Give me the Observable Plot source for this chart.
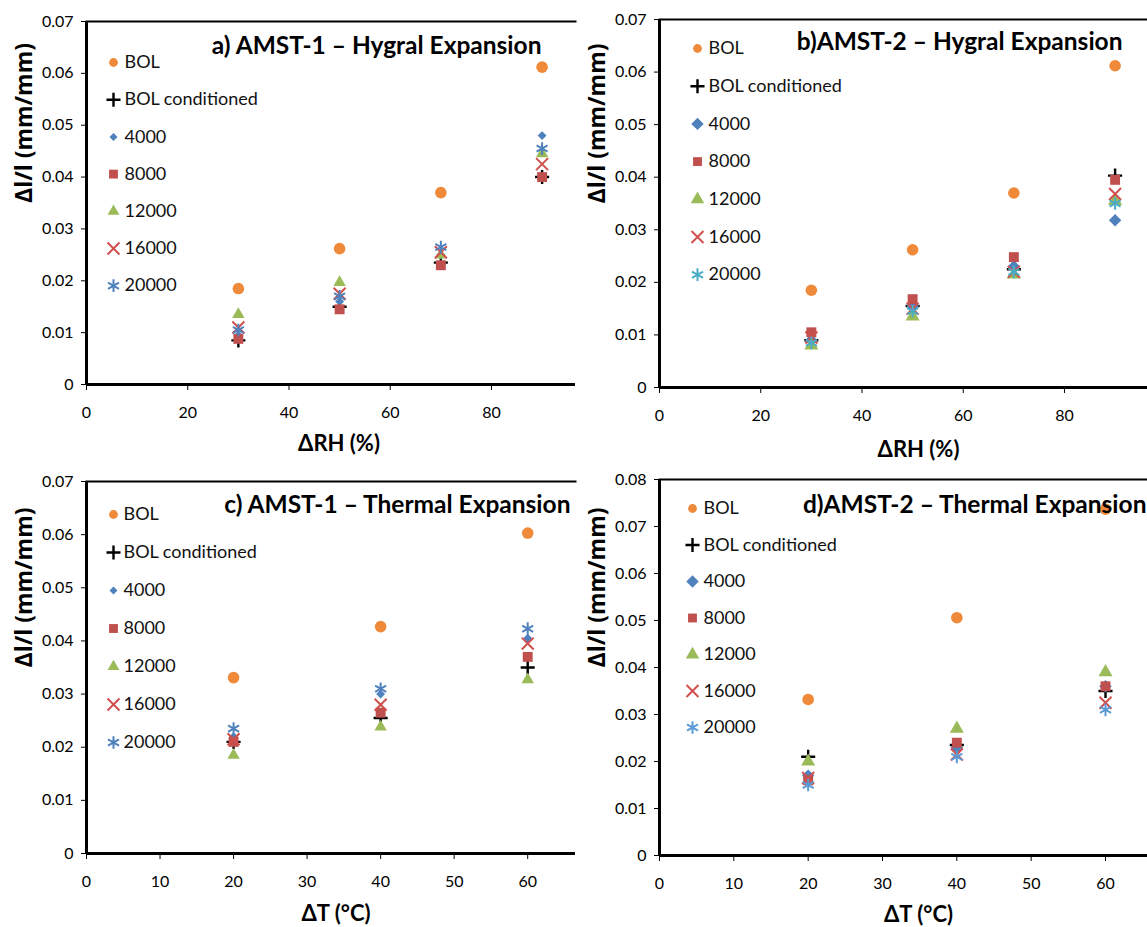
<!DOCTYPE html>
<html><head><meta charset="utf-8">
<script src="https://cdn.jsdelivr.net/npm/d3@7"></script>
<script src="https://cdn.jsdelivr.net/npm/@observablehq/plot@0.6"></script>
<style>
body{margin:0;background:#fff;}
#wrap{position:relative;width:1147px;height:927px;overflow:hidden;background:#fff;}
.panel{position:absolute;}
</style></head><body><div id="wrap"></div>
<script>
// ---- data ----
const seriesNames = ["BOL", "BOL conditioned", "4000", "8000", "12000", "16000", "20000"];
const rhLevels = [30, 50, 70, 90];
const tLevels = [20, 40, 60];

// a) AMST-1 Hygral (rows follow seriesNames, columns follow rhLevels)
const aBOL     = [0.0185, 0.0262, 0.0370, 0.0612];
const aBOLc    = [0.0085, 0.0150, 0.0235, 0.0400];
const a4000    = [0.0095, 0.0160, 0.0250, 0.0480];
const a8000    = [0.0088, 0.0145, 0.0230, 0.0400];
const a12000   = [0.0135, 0.0197, 0.0250, 0.0445];
const a16000   = [0.0110, 0.0175, 0.0255, 0.0425];
const a20000   = [0.0105, 0.0170, 0.0265, 0.0455];

// b) AMST-2 Hygral
const bBOL     = [0.0185, 0.0262, 0.0370, 0.0612];
const bBOLc    = [0.0090, 0.0155, 0.0225, 0.0403];
const b4000    = [0.0090, 0.0155, 0.0230, 0.0318];
const b8000    = [0.0105, 0.0168, 0.0248, 0.0395];
const b12000   = [0.0080, 0.0135, 0.0215, 0.0355];
const b16000   = [0.0095, 0.0150, 0.0220, 0.0368];
const b20000   = [0.0085, 0.0145, 0.0220, 0.0350];

// c) AMST-1 Thermal (columns follow tLevels)
const cBOL     = [0.0331, 0.0427, 0.0603];
const cBOLc    = [0.0210, 0.0255, 0.0350];
const c4000    = [0.0220, 0.0300, 0.0405];
const c8000    = [0.0210, 0.0265, 0.0370];
const c12000   = [0.0185, 0.0238, 0.0327];
const c16000   = [0.0215, 0.0280, 0.0395];
const c20000   = [0.0235, 0.0310, 0.0423];

// d) AMST-2 Thermal
const dBOL     = [0.0332, 0.0506, 0.0737];
const dBOLc    = [0.0210, 0.0235, 0.0350];
const d4000    = [0.0170, 0.0230, 0.0360];
const d8000    = [0.0160, 0.0240, 0.0360];
const d12000   = [0.0200, 0.0270, 0.0390];
const d16000   = [0.0165, 0.0215, 0.0325];
const d20000   = [0.0150, 0.0210, 0.0310];

const yTicks7 = [0, 0.01, 0.02, 0.03, 0.04, 0.05, 0.06, 0.07];
const yTicks8 = [0, 0.01, 0.02, 0.03, 0.04, 0.05, 0.06, 0.07, 0.08];
const rhTicks = [0, 20, 40, 60, 80];
const tTicks = [0, 10, 20, 30, 40, 50, 60];

// ---- styles ----
const symbols = ["circle", "plus", "diamond2", "square", "triangle", "times", "asterisk"];
const strokeOnly = [false, true, false, false, false, true, true];
const baseColors = ["#EE8A3A", "#000000", "#4F81BD", "#C0504D", "#9BBB59", "#D0504D", "#4F81BD"];
const FONT = "Lato, 'Open Sans', sans-serif";

function makePanel(cfg) {
  const marks = [];
  marks.push(Plot.frame({anchor: "top", stroke: "#000", strokeWidth: 2}));
  seriesNames.forEach((name, i) => {
    const rows = cfg.xs.map((x, j) => ({x, y: cfg.values[i][j]}));
    const col = cfg.colors[i];
    const sw = i === 1 ? 2.4 : 2;
    const opts = strokeOnly[i]
      ? {fill: "none", stroke: col, strokeWidth: sw}
      : {fill: col, stroke: "none"};
    marks.push(Plot.dot(rows, {x: "x", y: "y", symbol: symbols[i], r: cfg.sizes[i], ...opts}));
    // legend entry
    marks.push(Plot.dot([name], {frameAnchor: "top-left", dx: cfg.legDx, dy: cfg.legDy + i * cfg.legStep,
      symbol: symbols[i], r: cfg.legSizes[i], ...opts}));
    marks.push(Plot.text([name], {frameAnchor: "top-left", dx: cfg.legDx + cfg.txtDx, dy: cfg.legDy + i * cfg.legStep,
      textAnchor: "start", lineAnchor: "middle", fontSize: 18, fill: "#111", fontFamily: FONT}));
  });
  marks.push(Plot.ruleY([0], {stroke: "#000", strokeWidth: 3}));
  marks.push(Plot.ruleX([0], {stroke: "#000", strokeWidth: 3}));
  marks.push(Plot.text([cfg.title], {frameAnchor: "top-right", dx: cfg.titleDx, dy: cfg.titleDy,
    textAnchor: "end", lineAnchor: "middle", fontSize: 24.5, fontWeight: "bold", fill: "#000", fontFamily: FONT}));
  marks.push(Plot.axisX({ticks: cfg.xTicks, tickSize: 6, tickPadding: 16, label: null, fontSize: 16}));
  marks.push(Plot.axisY({ticks: cfg.yTicks, tickSize: 5, tickPadding: 8, label: null, fontSize: 16,
    tickFormat: d => d === 0 ? "0" : d.toFixed(2)}));
  // axis titles
  marks.push(Plot.text([cfg.xLabel], {frameAnchor: "bottom", dx: cfg.xLabDx, dy: cfg.xLabDy,
    lineAnchor: "middle", fontSize: 22, fontWeight: "bold", fill: "#000", fontFamily: FONT}));
  marks.push(Plot.text(["Δl/l (mm/mm)"], {frameAnchor: "left", dx: cfg.yLabDx, dy: 0, rotate: -90,
    lineAnchor: "middle", fontSize: 23, fontWeight: "bold", fill: "#000", fontFamily: "'Open Sans', Lato, sans-serif"}));
  const svg = Plot.plot({
    width: cfg.width, height: cfg.height,
    marginLeft: cfg.ml, marginRight: 0, marginTop: cfg.mt, marginBottom: cfg.mb,
    x: {domain: cfg.xDomain},
    y: {domain: cfg.yDomain},
    style: {fontFamily: FONT, fontSize: "16px", color: "#000", background: "transparent", overflow: "visible"},
    marks
  });
  const div = document.createElement("div");
  div.className = "panel";
  div.style.left = cfg.left + "px";
  div.style.top = cfg.top + "px";
  div.appendChild(svg);
  document.getElementById("wrap").appendChild(div);
}

const sizesAC = [5.8, 4.6, 4, 5.6, 4.6, 5.5, 6];
const sizesBD = [5.8, 4.6, 5.6, 5.6, 5.2, 5.5, 6];
const legAC = [4.4, 4.6, 3.6, 5, 4.4, 5.5, 6];
const legBD = [4.4, 4.6, 5.6, 5, 5, 5.5, 6];

makePanel({left: 0, top: 0, width: 575, height: 462, ml: 86, mt: 21, mb: 78,
  xDomain: [0, 96.6], yDomain: [0, 0.07], xTicks: rhTicks, yTicks: yTicks7, xs: rhLevels,
  values: [aBOL, aBOLc, a4000, a8000, a12000, a16000, a20000], colors: baseColors, sizes: sizesAC, legSizes: legAC,
  title: "a) AMST-1 – Hygral Expansion", titleDx: -34, titleDy: 25, xLabel: "ΔRH (%)",
  xLabDx: 8, xLabDy: 59, yLabDx: -62, legDx: 27, legDy: 41, legStep: 37.2, txtDx: 11});

makePanel({left: 575, top: 0, width: 572, height: 462, ml: 84, mt: 19, mb: 75,
  xDomain: [0, 96.4], yDomain: [0, 0.07], xTicks: rhTicks, yTicks: yTicks7, xs: rhLevels,
  values: [bBOL, bBOLc, b4000, b8000, b12000, b16000, b20000],
  colors: ["#EE8A3A", "#000000", "#4F81BD", "#C0504D", "#9BBB59", "#D0504D", "#4BACC6"], sizes: sizesBD, legSizes: legBD,
  title: "b)AMST-2 – Hygral Expansion", titleDx: -25, titleDy: 23, xLabel: "ΔRH (%)",
  xLabDx: 15, xLabDy: 62, yLabDx: -62, legDx: 38, legDy: 29, legStep: 37.7, txtDx: 11});

makePanel({left: 0, top: 462, width: 575, height: 465, ml: 86, mt: 19, mb: 74,
  xDomain: [0, 66.5], yDomain: [0, 0.07], xTicks: tTicks, yTicks: yTicks7, xs: tLevels,
  values: [cBOL, cBOLc, c4000, c8000, c12000, c16000, c20000], colors: baseColors, sizes: sizesAC, legSizes: legAC,
  title: "c) AMST-1 – Thermal Expansion", titleDx: -5, titleDy: 24, xLabel: "ΔT (°C)",
  xLabDx: 5, xLabDy: 60, yLabDx: -62, legDx: 27, legDy: 33, legStep: 38, txtDx: 10});

makePanel({left: 575, top: 462, width: 572, height: 465, ml: 84, mt: 17, mb: 72,
  xDomain: [0, 65.65], yDomain: [0, 0.08], xTicks: tTicks, yTicks: yTicks8, xs: tLevels,
  values: [dBOL, dBOLc, d4000, d8000, d12000, d16000, d20000],
  colors: ["#EE8A3A", "#000000", "#4F81BD", "#C0504D", "#9BBB59", "#D0504D", "#5B9BD5"], sizes: sizesBD, legSizes: legBD,
  title: "d)AMST-2 – Thermal Expansion", titleDx: -1, titleDy: 26, xLabel: "ΔT (°C)",
  xLabDx: 15, xLabDy: 59, yLabDx: -62, legDx: 33, legDy: 29, legStep: 36.5, txtDx: 11});
</script></body></html>
